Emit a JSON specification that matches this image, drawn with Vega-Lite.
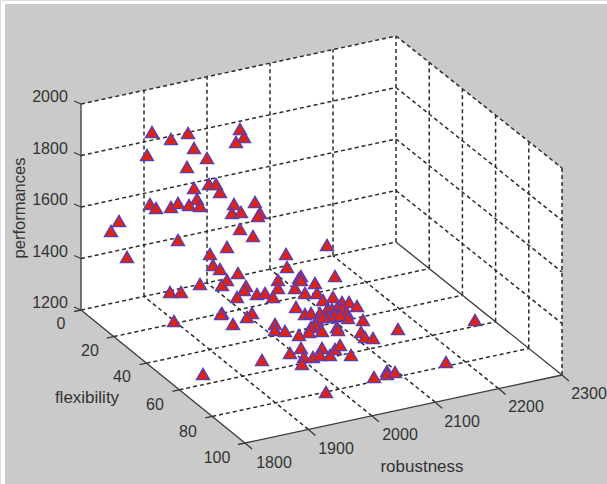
{"$schema":"https://vega.github.io/schema/vega-lite/v6.json","width":607,"height":484,"padding":0,"autosize":{"type":"none"},"background":"#ffffff","datasets":{"panel":[{"x":5,"y":4,"x2":607,"y2":484}],"wall":[{"x":81,"top":104,"bottom":310},{"x":245,"top":68.6,"bottom":443},{"x":396,"top":36,"bottom":410.6},{"x":562,"top":168,"bottom":375}],"dashed":[{"x":81,"y":310,"x2":396,"y2":242},{"x":113.8,"y":336.6,"x2":429.2,"y2":268.6},{"x":146.6,"y":363.2,"x2":462.4,"y2":295.2},{"x":179.4,"y":389.8,"x2":495.6,"y2":321.8},{"x":212.2,"y":416.4,"x2":528.8,"y2":348.4},{"x":308.4,"y":429.4,"x2":144,"y2":296.4},{"x":371.8,"y":415.8,"x2":207,"y2":282.8},{"x":435.2,"y":402.2,"x2":270,"y2":269.2},{"x":498.6,"y":388.6,"x2":333,"y2":255.6},{"x":144,"y":296.4,"x2":144,"y2":90.4},{"x":207,"y":282.8,"x2":207,"y2":76.8},{"x":270,"y":269.2,"x2":270,"y2":63.2},{"x":333,"y":255.6,"x2":333,"y2":49.6},{"x":396,"y":242,"x2":396,"y2":36},{"x":81,"y":258.5,"x2":396,"y2":190.5},{"x":81,"y":207,"x2":396,"y2":139},{"x":81,"y":155.5,"x2":396,"y2":87.5},{"x":81,"y":104,"x2":396,"y2":36},{"x":429.2,"y":268.6,"x2":429.2,"y2":62.6},{"x":462.4,"y":295.2,"x2":462.4,"y2":89.2},{"x":495.6,"y":321.8,"x2":495.6,"y2":115.8},{"x":528.8,"y":348.4,"x2":528.8,"y2":142.4},{"x":562,"y":375,"x2":562,"y2":168},{"x":396,"y":190.5,"x2":562,"y2":323.5},{"x":396,"y":139,"x2":562,"y2":272},{"x":396,"y":87.5,"x2":562,"y2":220.5},{"x":396,"y":36,"x2":562,"y2":168}],"solid":[{"x":81,"y":104,"x2":81,"y2":310},{"x":81,"y":310,"x2":245,"y2":443},{"x":245,"y":443,"x2":562,"y2":375},{"x":396,"y":242,"x2":562,"y2":375},{"x":81,"y":104,"x2":74,"y2":101},{"x":81,"y":155.5,"x2":74,"y2":152.5},{"x":81,"y":207,"x2":74,"y2":204},{"x":81,"y":258.5,"x2":74,"y2":255.5},{"x":81,"y":310,"x2":74,"y2":307},{"x":81,"y":310,"x2":74,"y2":311.5},{"x":113.8,"y":336.6,"x2":106.8,"y2":338.1},{"x":146.6,"y":363.2,"x2":139.6,"y2":364.7},{"x":179.4,"y":389.8,"x2":172.4,"y2":391.3},{"x":212.2,"y":416.4,"x2":205.2,"y2":417.9},{"x":245,"y":443,"x2":238,"y2":444.5},{"x":245,"y":443,"x2":252,"y2":449},{"x":308.4,"y":429.4,"x2":315.4,"y2":435.4},{"x":371.8,"y":415.8,"x2":378.8,"y2":421.8},{"x":435.2,"y":402.2,"x2":442.2,"y2":408.2},{"x":498.6,"y":388.6,"x2":505.6,"y2":394.6},{"x":562,"y":375,"x2":569,"y2":381}],"points":[{"x":152,"y":132},{"x":171,"y":139},{"x":188,"y":133},{"x":240,"y":129},{"x":244,"y":137},{"x":236,"y":142},{"x":147,"y":155},{"x":194,"y":148},{"x":207,"y":158},{"x":187,"y":167},{"x":194,"y":188},{"x":209,"y":184},{"x":216,"y":184},{"x":220,"y":192},{"x":197,"y":199},{"x":150,"y":204},{"x":156,"y":208},{"x":171,"y":207},{"x":178,"y":203},{"x":189,"y":205},{"x":200,"y":206},{"x":234,"y":204},{"x":255,"y":202},{"x":232,"y":213},{"x":241,"y":212},{"x":260,"y":213},{"x":258,"y":216},{"x":119,"y":221},{"x":111,"y":231},{"x":240,"y":229},{"x":253,"y":236},{"x":178,"y":240},{"x":127,"y":257},{"x":227,"y":247},{"x":210,"y":254},{"x":213,"y":265},{"x":220,"y":269},{"x":286,"y":254},{"x":287,"y":267},{"x":238,"y":273},{"x":200,"y":284},{"x":170,"y":292},{"x":181,"y":292},{"x":227,"y":280},{"x":222,"y":285},{"x":246,"y":286},{"x":244,"y":290},{"x":237,"y":297},{"x":257,"y":294},{"x":265,"y":293},{"x":278,"y":280},{"x":278,"y":288},{"x":273,"y":297},{"x":295,"y":288},{"x":299,"y":278},{"x":296,"y":307},{"x":222,"y":313},{"x":252,"y":313},{"x":247,"y":317},{"x":174,"y":321},{"x":327,"y":245},{"x":335,"y":276},{"x":301,"y":276},{"x":301,"y":280},{"x":315,"y":283},{"x":305,"y":293},{"x":317,"y":293},{"x":323,"y":300},{"x":333,"y":297},{"x":342,"y":302},{"x":349,"y":302},{"x":357,"y":306},{"x":305,"y":314},{"x":311,"y":313},{"x":327,"y":310},{"x":332,"y":309},{"x":337,"y":308},{"x":342,"y":308},{"x":320,"y":313},{"x":347,"y":313},{"x":348,"y":318},{"x":317,"y":320},{"x":323,"y":317},{"x":330,"y":317},{"x":335,"y":315},{"x":340,"y":315},{"x":315,"y":325},{"x":311,"y":327},{"x":322,"y":331},{"x":309,"y":332},{"x":337,"y":327},{"x":338,"y":330},{"x":299,"y":335},{"x":363,"y":320},{"x":398,"y":329},{"x":361,"y":332},{"x":365,"y":337},{"x":373,"y":338},{"x":275,"y":324},{"x":275,"y":330},{"x":285,"y":331},{"x":233,"y":324},{"x":221,"y":314},{"x":301,"y":348},{"x":290,"y":353},{"x":304,"y":357},{"x":322,"y":348},{"x":313,"y":357},{"x":320,"y":355},{"x":330,"y":355},{"x":335,"y":349},{"x":340,"y":345},{"x":351,"y":355},{"x":302,"y":364},{"x":262,"y":360},{"x":203,"y":374},{"x":326,"y":392},{"x":374,"y":377},{"x":387,"y":371},{"x":387,"y":374},{"x":395,"y":372},{"x":446,"y":362},{"x":475,"y":320}],"labels":[{"t":"2000","x":50,"y":97},{"t":"1800","x":50,"y":149},{"t":"1600","x":50,"y":200},{"t":"1400","x":50,"y":252},{"t":"1200","x":50,"y":303},{"t":"0","x":61,"y":324},{"t":"20","x":90,"y":351},{"t":"40","x":122,"y":377},{"t":"60","x":155,"y":405},{"t":"80","x":188,"y":432},{"t":"100","x":217,"y":458},{"t":"1800","x":274,"y":463},{"t":"1900","x":336,"y":449},{"t":"2000","x":400,"y":435},{"t":"2100","x":462,"y":422},{"t":"2200","x":526,"y":407},{"t":"2300","x":589,"y":394}],"titles":[{"t":"flexibility","x":87,"y":398},{"t":"robustness","x":422,"y":467}],"ztitle":[{"t":"performances","x":20,"y":208}]},"layer":[{"data":{"name":"panel"},"mark":{"type":"rect","fill":"#cacaca"},"encoding":{"x":{"field":"x","type":"quantitative","scale":{"domain":[0,607],"range":[0,607],"nice":false,"zero":false},"axis":null},"x2":{"field":"x2"},"y":{"field":"y","type":"quantitative","scale":{"domain":[0,484],"range":[0,484],"nice":false,"zero":false},"axis":null},"y2":{"field":"y2"}}},{"data":{"name":"wall"},"mark":{"type":"area","fill":"#ffffff","opacity":1,"interpolate":"linear"},"encoding":{"x":{"field":"x","type":"quantitative","axis":null},"y":{"field":"top","type":"quantitative","axis":null},"y2":{"field":"bottom"}}},{"data":{"name":"dashed"},"mark":{"type":"rule","stroke":"#2c2c2c","strokeWidth":1.5,"strokeDash":[4,3]},"encoding":{"x":{"field":"x","type":"quantitative","axis":null},"x2":{"field":"x2"},"y":{"field":"y","type":"quantitative","axis":null},"y2":{"field":"y2"}}},{"data":{"name":"solid"},"mark":{"type":"rule","stroke":"#3a3a3a","strokeWidth":1.3},"encoding":{"x":{"field":"x","type":"quantitative","axis":null},"x2":{"field":"x2"},"y":{"field":"y","type":"quantitative","axis":null},"y2":{"field":"y2"}}},{"data":{"name":"points"},"mark":{"type":"point","shape":"triangle-up","filled":true,"fill":"#dd2412","stroke":"#5a3cb4","strokeWidth":1.4,"size":170,"opacity":1},"encoding":{"x":{"field":"x","type":"quantitative","axis":null},"y":{"field":"y","type":"quantitative","axis":null}}},{"data":{"name":"labels"},"mark":{"type":"text","font":"Liberation Sans","fontSize":16,"fill":"#333333","align":"center","baseline":"middle"},"encoding":{"x":{"field":"x","type":"quantitative","axis":null},"y":{"field":"y","type":"quantitative","axis":null},"text":{"field":"t"}}},{"data":{"name":"titles"},"mark":{"type":"text","font":"Liberation Sans","fontSize":17,"fill":"#333333","align":"center","baseline":"middle"},"encoding":{"x":{"field":"x","type":"quantitative","axis":null},"y":{"field":"y","type":"quantitative","axis":null},"text":{"field":"t"}}},{"data":{"name":"ztitle"},"mark":{"type":"text","font":"Liberation Sans","fontSize":16.5,"fill":"#333333","align":"center","baseline":"middle","angle":270},"encoding":{"x":{"field":"x","type":"quantitative","axis":null},"y":{"field":"y","type":"quantitative","axis":null},"text":{"field":"t"}}}]}
